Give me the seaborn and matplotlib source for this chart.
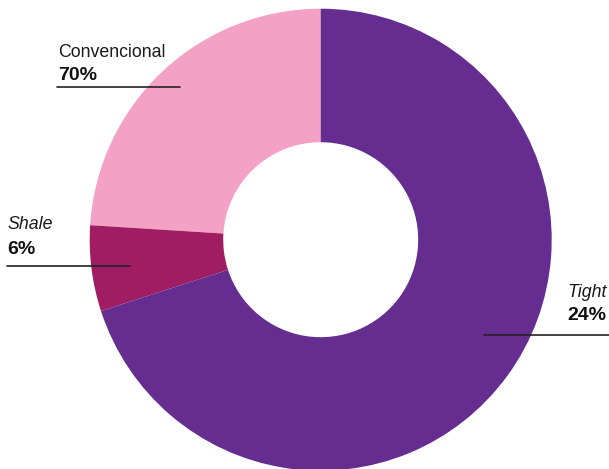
import matplotlib
matplotlib.use("Agg")
import matplotlib.pyplot as plt
from matplotlib.lines import Line2D
import seaborn as sns

# Production share by reservoir type
categories = ["Tight", "Shale", "Convencional"]
shares = [24, 6, 70]

sns.set_theme(style="white")
plt.rcParams["font.family"] = ["Liberation Sans", "DejaVu Sans"]

colors = sns.color_palette(["#F4A1C6", "#A01D63", "#652D8F"])

W, H = 609, 469
fig = plt.figure(figsize=(W / 100, H / 100), dpi=100)

# donut centred at (320.7, 239.7) px with outer radius 231 px
cx, cy, r = 320.7, 239.7, 231.0
ax = fig.add_axes([(cx - r) / W, (H - cy - r) / H, 2 * r / W, 2 * r / H])
ax.pie(shares, colors=colors, startangle=90, counterclock=True, radius=1.0,
       wedgeprops=dict(width=0.578, linewidth=0))
ax.set_xlim(-1, 1)
ax.set_ylim(-1, 1)
ax.set_aspect("equal")
ax.axis("off")


def px(x, y):
    return x / W, (H - y) / H


def label(name, value, x, y_name, y_val, ha, style, line):
    fig.text(*px(x, y_name), name, ha=ha, va="baseline", fontsize=12.8,
             style=style, color="#1a1a1a")
    fig.text(*px(x, y_val), f"{value}%", ha=ha, va="baseline", fontsize=14,
             fontweight="bold", color="#111111")
    (x0, x1, yl) = line
    fig.add_artist(Line2D([x0 / W, x1 / W], [(H - yl) / H] * 2,
                          transform=fig.transFigure, color="#222222", lw=1.2))


lookup = dict(zip(categories, shares))
label("Convencional", lookup["Convencional"], 58.5, 57.2, 79.5, "left",
      "normal", (57, 180, 86.7))
label("Shale", lookup["Shale"], 7, 229.3, 253.5, "left", "italic",
      (6.5, 130, 265.7))
label("Tight", lookup["Tight"], 606.5, 296.7, 319.5, "right", "italic",
      (484, 609, 335.3))

fig.savefig("out.png", dpi=100, facecolor="white")
